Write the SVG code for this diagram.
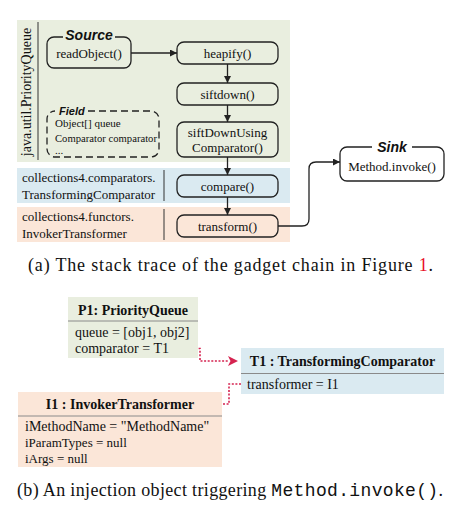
<svg xmlns="http://www.w3.org/2000/svg" width="461" height="511" viewBox="0 0 461 511">
<style>
.box{fill:none;stroke:#222;stroke-width:1.3}
.div{stroke:#333;stroke-width:1}
.hd{stroke:#8a8a8a;stroke-width:1}
.con{fill:none;stroke:#222;stroke-width:1.3}
.red{fill:none;stroke:#d52350;stroke-width:1.6;stroke-dasharray:2 1.6}
.rh{fill:#d52350;stroke:none}
</style>
<defs>
<marker id="ah" viewBox="0 0 10 10" refX="10" refY="5" markerWidth="7" markerHeight="7" markerUnits="userSpaceOnUse" orient="auto">
<path d="M0,0 L10,5 L0,10 z" fill="#222"/>
</marker>
</defs>
<rect width="461" height="511" fill="#ffffff"/>

<g font-family="Liberation Serif, Times New Roman, serif" fill="#111">
<g id="band-pq">
<rect x="17" y="20" width="273" height="142" fill="#e9eedf"/>
<line class="div" x1="38" y1="22" x2="38" y2="160"/>
<text font-size="14" text-anchor="middle" transform="translate(31,92) rotate(-90)">java.util.PriorityQueue</text>
</g>
<g id="band-tc">
<rect x="17" y="168" width="273" height="35" fill="#daeaf1"/>
<line class="div" x1="164" y1="170" x2="164" y2="201"/>
<text font-size="13" x="22" y="182">collections4.comparators.</text>
<text font-size="13" x="22" y="199">TransformingComparator</text>
</g>
<g id="band-it">
<rect x="17" y="207" width="273" height="35" fill="#fbe6d8"/>
<line class="div" x1="164" y1="209" x2="164" y2="240"/>
<text font-size="13" x="22" y="221">collections4.functors.</text>
<text font-size="13" x="22" y="238">InvokerTransformer</text>
</g>

<g id="connectors">
<line class="con" x1="131" y1="53" x2="177" y2="53" marker-end="url(#ah)"/>
<line class="con" x1="227.5" y1="64" x2="227.5" y2="83" marker-end="url(#ah)"/>
<line class="con" x1="227.5" y1="105" x2="227.5" y2="122" marker-end="url(#ah)"/>
<line class="con" x1="227.5" y1="157" x2="227.5" y2="175" marker-end="url(#ah)"/>
<line class="con" x1="227.5" y1="197" x2="227.5" y2="215" marker-end="url(#ah)"/>
<path class="con" d="M278,226 H302 Q309,226 309,219 V169 Q309,162 316,162 H340" marker-end="url(#ah)"/>
<path class="red" d="M177,348.5 H200 V361 H229"/>
<polygon class="rh" points="238,361 228,356 230.5,361 228,366"/>
<path class="red" d="M241,384 H229 V404 H211"/>
<polygon class="rh" points="202,404 212,399 209.5,404 212,409"/>
</g>

<g id="source">
<rect class="box" x="47" y="37" width="84" height="31" rx="7"/>
<rect x="63" y="30" width="52" height="12" fill="#e9eedf"/>
<text font-family="Liberation Sans, Arial, sans-serif" font-weight="bold" font-style="italic" font-size="14" x="89" y="39.5" text-anchor="middle">Source</text>
<text font-size="13" x="89" y="58" text-anchor="middle">readObject()</text>
</g>
<g id="heapify">
<rect class="box" x="177" y="42" width="101" height="22" rx="7"/>
<text font-size="13" x="227.5" y="57.5" text-anchor="middle">heapify()</text>
</g>
<g id="siftdown">
<rect class="box" x="177" y="83" width="101" height="22" rx="7"/>
<text font-size="13" x="227.5" y="98.5" text-anchor="middle">siftdown()</text>
</g>
<g id="siftDownUsingComparator">
<rect class="box" x="177" y="122" width="101" height="35" rx="7"/>
<text font-size="13" x="227.5" y="137" text-anchor="middle">siftDownUsing</text>
<text font-size="13" x="227.5" y="152" text-anchor="middle">Comparator()</text>
</g>
<g id="field">
<rect x="47" y="111" width="112" height="46" rx="8" fill="none" stroke="#222" stroke-width="1.3" stroke-dasharray="7 4"/>
<rect x="55" y="104" width="32" height="12" fill="#e9eedf"/>
<text font-family="Liberation Sans, Arial, sans-serif" font-weight="bold" font-style="italic" font-size="11" x="59" y="114.5">Field</text>
<text font-size="11" x="55" y="127">Object[] queue</text>
<text font-size="11" x="55" y="141.5" textLength="102" lengthAdjust="spacingAndGlyphs">Comparator comparator</text>
<text font-size="11" x="55" y="154">...</text>
</g>
<g id="compare">
<rect class="box" x="177" y="175" width="101" height="22" rx="7"/>
<text font-size="13" x="227.5" y="190.5" text-anchor="middle">compare()</text>
</g>
<g id="transform">
<rect class="box" x="177" y="215" width="101" height="22" rx="7"/>
<text font-size="13" x="227.5" y="230.5" text-anchor="middle">transform()</text>
</g>
<g id="sink">
<rect class="box" x="340" y="147" width="104" height="34" rx="7"/>
<rect x="372" y="140" width="40" height="12" fill="#ffffff"/>
<text font-family="Liberation Sans, Arial, sans-serif" font-weight="bold" font-style="italic" font-size="14" x="392" y="151.5" text-anchor="middle">Sink</text>
<text font-size="13" x="392" y="171" text-anchor="middle">Method.invoke()</text>
</g>

<text font-size="18" x="28" y="271" textLength="405" lengthAdjust="spacing">(a) The stack trace of the gadget chain in Figure <tspan fill="#e8102a">1</tspan>.</text>

<g id="P1">
<rect x="68" y="297" width="130" height="61" fill="#e9eedf"/>
<line class="hd" x1="68" y1="321" x2="198" y2="321"/>
<text font-weight="bold" font-size="14" x="133" y="315" text-anchor="middle">P1: PriorityQueue</text>
<text font-size="14" x="75" y="337">queue = [obj1, obj2]</text>
<text font-size="14" x="75" y="353">comparator = T1</text>
</g>
<g id="T1">
<rect x="241" y="348" width="203" height="46" fill="#daeaf1"/>
<line class="hd" x1="241" y1="373.5" x2="444" y2="373.5"/>
<text font-weight="bold" font-size="14" x="342.5" y="366" text-anchor="middle">T1 : TransformingComparator</text>
<text font-size="14" x="247" y="389">transformer = I1</text>
</g>
<g id="I1">
<rect x="18" y="392" width="204" height="75" fill="#fbe6d8"/>
<line class="hd" x1="18" y1="416" x2="222" y2="416"/>
<text font-weight="bold" font-size="14" x="120" y="409" text-anchor="middle">I1 : InvokerTransformer</text>
<text font-size="14" x="25" y="431">iMethodName = "MethodName"</text>
<text font-size="13" x="25" y="447">iParamTypes = null</text>
<text font-size="13" x="25" y="463">iArgs = null</text>
</g>

<text font-size="18" x="17" y="496" textLength="426" lengthAdjust="spacing">(b) An injection object triggering <tspan font-family="Liberation Mono, Courier New, monospace">Method.invoke()</tspan>.</text>
</g>
</svg>
